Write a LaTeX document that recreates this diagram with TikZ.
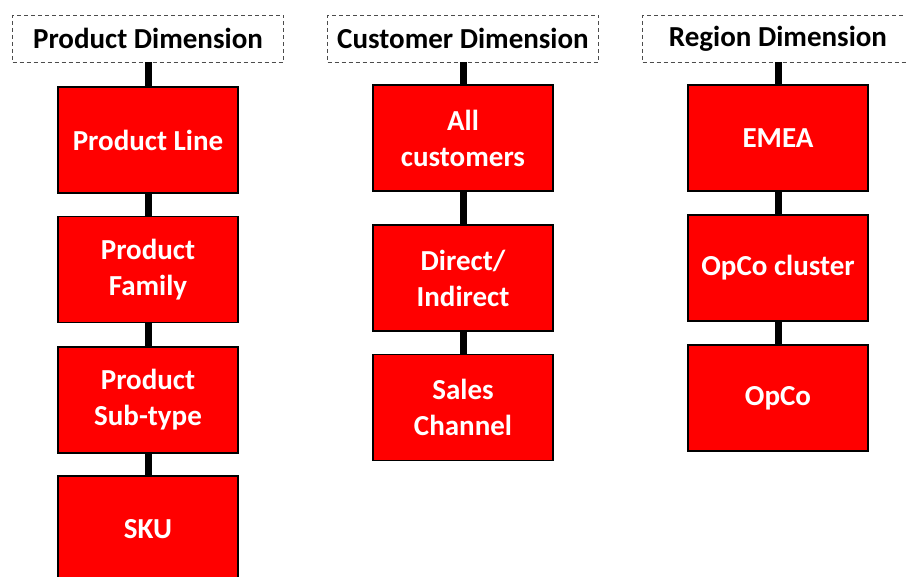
\documentclass[tikz,border=0pt]{standalone}
\usepackage{fontspec}
\setmainfont{Carlito}

\begin{document}
\begin{tikzpicture}[
        x=1pt, y=-1pt,
        every node/.style={font=\bfseries\fontsize{29}{36}\selectfont, align=center, inner sep=0pt},
        dimhead/.style={draw=black!70, dash pattern=on 4pt off 3pt, minimum width=271pt, minimum height=47pt},
        catbox/.style={draw=black, line width=1.2pt, fill=red, text=white, minimum width=180pt, minimum height=106pt},
        link/.style={line width=7pt},
    ]
    \useasboundingbox (0,0) rectangle (906,577);
    % product
    \node[dimhead] (prod) at (148,38.5) {Product Dimension};
    \node[catbox] (pline) at (148,140) {Product Line};
    \node[catbox] (pfam) at (148,269.5) {Product\\Family};
    \node[catbox] (psub) at (148,400) {Product\\Sub-type};
    \node[catbox] (sku) at (148,529) {SKU};
    % customer
    \node[dimhead] (cust) at (463,38.5) {Customer Dimension};
    \node[catbox] (call) at (463,138) {All\\customers};
    \node[catbox] (cdir) at (463,278) {Direct/\\Indirect};
    \node[catbox] (csales) at (463,407.5) {Sales\\Channel};
    % region
    \node[dimhead] (reg) at (778,38.5) {Region Dimension};
    \node[catbox] (emea) at (778,138) {EMEA};
    \node[catbox] (clus) at (778,268) {OpCo cluster};
    \node[catbox] (opco) at (778,398) {OpCo};
    % links
    \foreach \a/\b in {prod/pline, pline/pfam, pfam/psub, psub/sku,
                       cust/call, call/cdir, cdir/csales,
                       reg/emea, emea/clus, clus/opco}
      \draw[link] (\a.south) -- (\b.north);
\end{tikzpicture}
\end{document}
